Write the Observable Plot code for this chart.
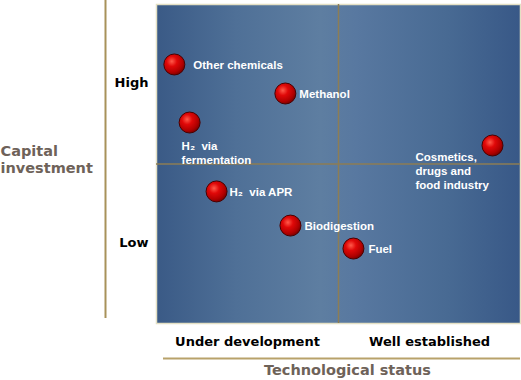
<!DOCTYPE html>
<html>
<head>
<meta charset="utf-8">
<script src="https://cdn.jsdelivr.net/npm/d3@7"></script>
<script src="https://cdn.jsdelivr.net/npm/@observablehq/plot@0.6"></script>
<style>
  html, body { margin: 0; padding: 0; background: #fff; }
  #chart { width: 521px; height: 380px; }
</style>
</head>
<body>
<div id="chart"></div>
<script>
// ---- data ----
const categories = ["Other chemicals", "Methanol", "H₂  via\nfermentation", "Cosmetics,\ndrugs and\nfood industry", "H₂  via APR", "Biodigestion", "Fuel"];
const techStatus = [4.9, 35.4, 9.1, 92.3, 16.5, 36.8, 54.1];
const capitalInvestment = [81.2, 72.1, 63.0, 55.8, 41.4, 30.7, 23.5];
const xTickValues = [25, 75];
const xTickLabels = ["Under development", "Well established"];
const yTickValues = [25, 75];
const yTickLabels = ["Low", "High"];
const quadrantSplit = [50];
const xTitle = "Technological status";
const yTitle = "Capital\ninvestment";

// ---- label placement (style) ----
const labelDx = [19, 14, -8, -77, 13, 14, 15];
const labelDy = [0, 0, 17, 5, 0, 0, 0];
const labelLineAnchor = ["middle", "middle", "top", "top", "middle", "middle", "middle"];

const rows = categories.map((c, i) => ({
  name: c, x: techStatus[i], y: capitalInvestment[i],
  dx: labelDx[i], dy: labelDy[i], la: labelLineAnchor[i]
}));

const labelMarks = ["middle", "top"].map(la => {
  const sub = rows.filter(d => d.la === la);
  return Plot.text(sub, {
    x: "x", y: "y", text: "name",
    textAnchor: "start", lineAnchor: la,
    fill: "#fff", fontSize: 11.5, fontWeight: "bold",
    fontFamily: "Liberation Sans, Arial, sans-serif",
    lineHeight: 1.25,
    render(index, scales, values, dims, context, next) {
      const g = next(index, scales, values, dims, context);
      d3.select(g).selectAll("text").each(function(i) {
        const t = this.getAttribute("transform") || "";
        this.setAttribute("transform", t + ` translate(${sub[i].dx},${sub[i].dy})`);
      });
      return g;
    }
  });
});

const fmtX = d => xTickLabels[xTickValues.indexOf(d)];
const fmtY = d => yTickLabels[yTickValues.indexOf(d)];

const chart = Plot.plot({
  width: 521,
  height: 380,
  marginLeft: 156,
  marginRight: 1,
  marginTop: 4,
  marginBottom: 57,
  x: { domain: [0, 100] },
  y: { domain: [0, 100] },
  style: { background: "#fff", overflow: "visible" },
  marks: [
    Plot.frame({ fill: "url(#panelGrad)", stroke: "#e4e0c4", strokeWidth: 1.5 }),
    Plot.ruleX(quadrantSplit, { stroke: "#8c7d55", strokeWidth: 1.5 }),
    Plot.ruleY(quadrantSplit, { stroke: "#8c7d55", strokeWidth: 1.5 }),
    Plot.axisX({
      ticks: xTickValues, tickFormat: fmtX, tickSize: 0, tickPadding: 13,
      label: null, fontSize: 13, fontWeight: "bold",
      fontFamily: "DejaVu Sans, Verdana, sans-serif", color: "#000"
    }),
    Plot.axisY({
      ticks: yTickValues, tickFormat: fmtY, tickSize: 0, tickPadding: 8, dy: -1,
      label: null, fontSize: 13, fontWeight: "bold",
      fontFamily: "DejaVu Sans, Verdana, sans-serif", color: "#000"
    }),
    // decorative axis lines
    Plot.ruleX([0], { dx: -51, stroke: "#a8925a", strokeWidth: 2, insetTop: -4, insetBottom: 5 }),
    Plot.ruleY([0], { dy: 35, stroke: "#b8a26a", strokeWidth: 2, insetLeft: 7 }),
    // axis titles
    Plot.text([xTitle], {
      frameAnchor: "bottom", dx: 9, dy: 51, text: d => d,
      fontSize: 14.5, fontWeight: "bold", fill: "#6e6259",
      fontFamily: "DejaVu Sans, Verdana, sans-serif"
    }),
    Plot.text([yTitle], {
      frameAnchor: "left", dx: -156, dy: -5, text: d => d, textAnchor: "start",
      fontSize: 14.5, fontWeight: "bold", fill: "#6e6259", lineHeight: 1.15,
      fontFamily: "DejaVu Sans, Verdana, sans-serif"
    }),
    // bubbles
    Plot.dot(rows, { x: "x", y: "y", r: 10.5, fill: "url(#ballGrad)", stroke: "#4a0000", strokeWidth: 1 }),
    ...labelMarks
  ]
});

// gradients
const svg = d3.select(chart);
const defs = svg.insert("defs", ":first-child");
const pg = defs.append("linearGradient").attr("id", "panelGrad").attr("x1", "0").attr("x2", "1").attr("y1", "0").attr("y2", "0");
[["0%", "#3a5a86"], ["22%", "#4f7097"], ["45%", "#5e7ea1"], ["55%", "#5878a0"], ["80%", "#486a93"], ["100%", "#385887"]]
  .forEach(([o, c]) => pg.append("stop").attr("offset", o).attr("stop-color", c));
const bg = defs.append("radialGradient").attr("id", "ballGrad").attr("cx", "0.38").attr("cy", "0.35").attr("r", "0.7");
[["0%", "#ff5a4a"], ["35%", "#e00808"], ["75%", "#b00000"], ["100%", "#700000"]]
  .forEach(([o, c]) => bg.append("stop").attr("offset", o).attr("stop-color", c));

document.getElementById("chart").appendChild(chart);
</script>
</body>
</html>
